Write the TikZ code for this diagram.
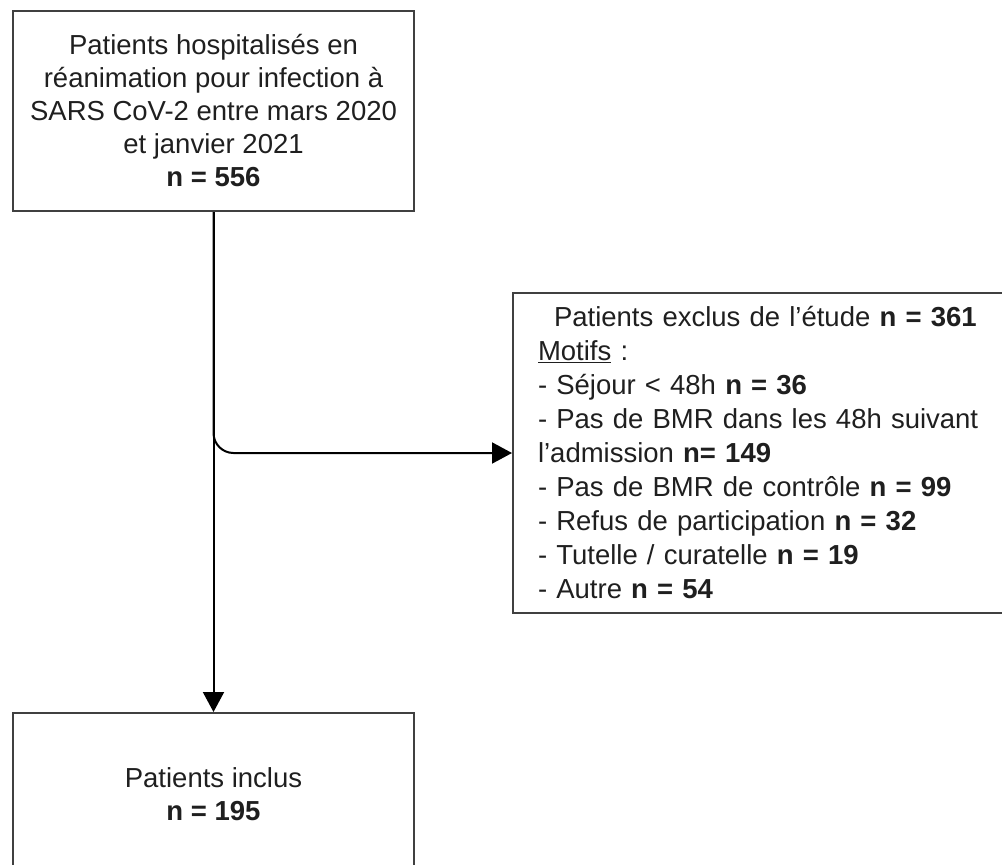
\documentclass[tikz,border=0pt]{standalone}
\usepackage{fontspec}
\setmainfont{Liberation Sans}
\usetikzlibrary{arrows.meta}
\begin{document}
\begin{tikzpicture}[x=1pt,y=1pt,
  box/.style={draw=black!75, line width=2pt, rectangle, inner sep=0pt, anchor=north west},
  conn/.style={draw=black, line width=2pt, -{Triangle[length=20pt,width=21pt]}},
  txt/.style={font=\fontsize{27.5}{33}\selectfont, text=black!88},
  txtb/.style={font=\fontsize{27.5}{34}\selectfont, text=black!88}
]
\useasboundingbox (0,0) rectangle (1002,-865);
\clip (0,0) rectangle (1002,-865);
\node[box, txt, align=center, minimum width=401, minimum height=200] (top) at (12,-10)
  {Patients hospitalisés en\\réanimation pour infection à\\SARS CoV-2 entre mars 2020\\et janvier 2021\\\textbf{n = 556}};
\node[box, txtb, align=left, inner xsep=25pt, text width=450pt, minimum height=320] (excl) at (512,-292)
  {\hspace*{16pt}Patients exclus de l’étude \textbf{n = 361}\\
   \underline{Motifs} :\\
   - Séjour < 48h \textbf{n = 36}\\
   - Pas de BMR dans les 48h suivant\\
   l’admission \textbf{n= 149}\\
   - Pas de BMR de contrôle \textbf{n = 99}\\
   - Refus de participation \textbf{n = 32}\\
   - Tutelle / curatelle \textbf{n = 19}\\
   - Autre \textbf{n = 54}};
\node[box, txt, align=center, minimum width=401, minimum height=163] (incl) at (12,-712)
  {Patients inclus\\\textbf{n = 195}};
\draw[conn] (top.south) -- (incl.north);
\draw[conn, rounded corners=20pt] (top.south) |- (excl.west);
\end{tikzpicture}
\end{document}
